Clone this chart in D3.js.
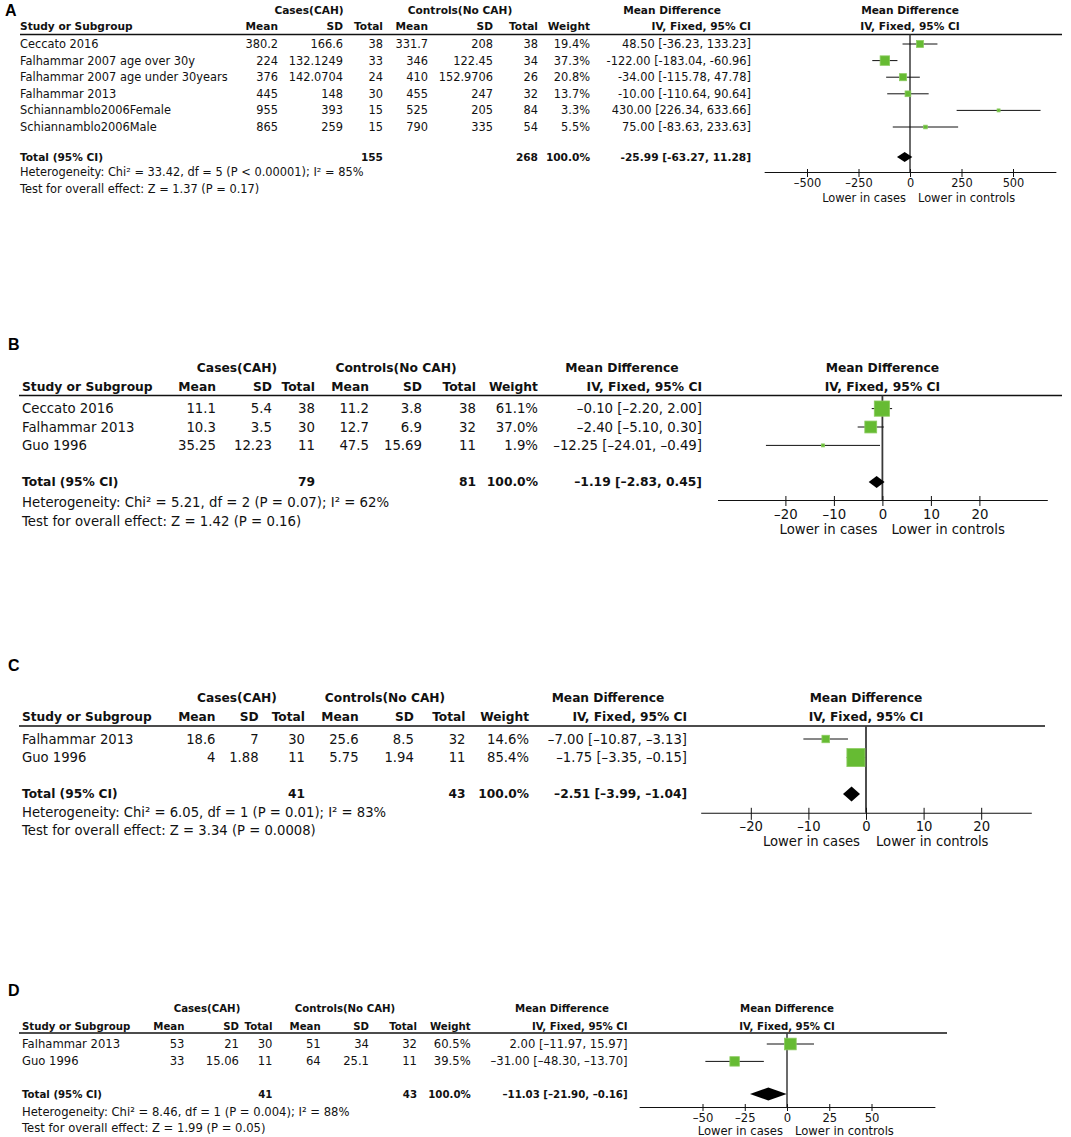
<!DOCTYPE html>
<html><head><meta charset="utf-8">
<script src="https://cdn.jsdelivr.net/npm/d3@7"></script>
<style>
body{margin:0;background:#fff;}
svg text{font-family:"DejaVu Sans",Verdana,sans-serif;fill:#111;}
</style></head><body>
<svg id="chart" width="1071" height="1137"></svg>
<script>
// ---------- Panel A ----------
const studiesA = ["Ceccato 2016","Falhammar 2007 age over 30y","Falhammar 2007 age under 30years","Falhammar 2013","Schiannamblo2006Female","Schiannamblo2006Male"];
const caseMeanA = [380.2,224,376,445,955,865];
const caseSDA = [166.6,132.1249,142.0704,148,393,259];
const caseNA = [38,33,24,30,15,15];
const ctrlMeanA = [331.7,346,410,455,525,790];
const ctrlSDA = [208,122.45,152.9706,247,205,335];
const ctrlNA = [38,34,26,32,84,54];
const weightA = [19.4,37.3,20.8,13.7,3.3,5.5];
const mdA = [48.50,-122.00,-34.00,-10.00,430.00,75.00];
const loA = [-36.23,-183.04,-115.78,-110.64,226.34,-83.63];
const hiA = [133.23,-60.96,47.78,90.64,633.66,233.63];
const totalNA = [155,268];
const totalEffA = [-25.99,-63.27,11.28];
const hetA = "Heterogeneity: Chi\u00b2 = 33.42, df = 5 (P < 0.00001); I\u00b2 = 85%";
const testA = "Test for overall effect: Z = 1.37 (P = 0.17)";
const ticksA = [-500,-250,0,250,500];

// ---------- Panel B ----------
const studiesB = ["Ceccato 2016","Falhammar 2013","Guo 1996"];
const caseMeanB = [11.1,10.3,35.25];
const caseSDB = [5.4,3.5,12.23];
const caseNB = [38,30,11];
const ctrlMeanB = [11.2,12.7,47.5];
const ctrlSDB = [3.8,6.9,15.69];
const ctrlNB = [38,32,11];
const weightB = [61.1,37.0,1.9];
const mdB = [-0.10,-2.40,-12.25];
const loB = [-2.20,-5.10,-24.01];
const hiB = [2.00,0.30,-0.49];
const totalNB = [79,81];
const totalEffB = [-1.19,-2.83,0.45];
const hetB = "Heterogeneity: Chi\u00b2 = 5.21, df = 2 (P = 0.07); I\u00b2 = 62%";
const testB = "Test for overall effect: Z = 1.42 (P = 0.16)";
const ticksB = [-20,-10,0,10,20];

// ---------- Panel C ----------
const studiesC = ["Falhammar 2013","Guo 1996"];
const caseMeanC = [18.6,4];
const caseSDC = [7,1.88];
const caseNC = [30,11];
const ctrlMeanC = [25.6,5.75];
const ctrlSDC = [8.5,1.94];
const ctrlNC = [32,11];
const weightC = [14.6,85.4];
const mdC = [-7.00,-1.75];
const loC = [-10.87,-3.35];
const hiC = [-3.13,-0.15];
const totalNC = [41,43];
const totalEffC = [-2.51,-3.99,-1.04];
const hetC = "Heterogeneity: Chi\u00b2 = 6.05, df = 1 (P = 0.01); I\u00b2 = 83%";
const testC = "Test for overall effect: Z = 3.34 (P = 0.0008)";
const ticksC = [-20,-10,0,10,20];

// ---------- Panel D ----------
const studiesD = ["Falhammar 2013","Guo 1996"];
const caseMeanD = [53,33];
const caseSDD = [21,15.06];
const caseND = [30,11];
const ctrlMeanD = [51,64];
const ctrlSDD = [34,25.1];
const ctrlND = [32,11];
const weightD = [60.5,39.5];
const mdD = [2.00,-31.00];
const loD = [-11.97,-48.30];
const hiD = [15.97,-13.70];
const totalND = [41,43];
const totalEffD = [-11.03,-21.90,-0.16];
const hetD = "Heterogeneity: Chi\u00b2 = 8.46, df = 1 (P = 0.004); I\u00b2 = 88%";
const testD = "Test for overall effect: Z = 1.99 (P = 0.05)";
const ticksD = [-50,-25,0,25,50];

const svg = d3.select("#chart");
const GREEN = "#66bb33", GREEN_EDGE = "#8acb5e";

function drawPanel(d, L) {
  const g = svg.append("g");
  const fs = L.fs, bfs = fs * L.bold;
  const T = (x, cy, txt, anchor, bold) => g.append("text")
    .attr("x", x).attr("y", cy).attr("dy", "0.35em")
    .attr("text-anchor", anchor || "start")
    .attr("font-size", bold ? bfs : fs)
    .attr("font-weight", bold ? "bold" : "normal")
    .text(txt);
  const num = v => {
    const s = v.toFixed(2);
    return v < 0 ? L.minus + s.slice(1) : s;
  };
  const ci = (m, lo, hi) => num(m) + " [" + num(lo) + ", " + num(hi) + "]";

  // panel letter
  g.append("text").attr("x", L.labelX).attr("y", L.labelCy).attr("dy", "0.36em")
    .style("font-family", "'Liberation Sans', Arial, sans-serif")
    .attr("font-weight", "bold").attr("font-size", 16).style("fill", "#000").text(L.label);

  // header row 1
  T(L.casesX, L.hdr1Cy, "Cases(CAH)", "middle", true);
  T(L.ctrlsX, L.hdr1Cy, "Controls(No CAH)", "middle", true);
  T(L.mdTableX, L.hdr1Cy, "Mean Difference", "middle", true);
  T(L.zeroX, L.hdr1Cy, "Mean Difference", "middle", true);
  // header row 2
  T(L.studyX, L.hdr2Cy, "Study or Subgroup", "start", true);
  const hdr = ["Mean","SD","Total","Mean","SD","Total","Weight","IV, Fixed, 95% CI"];
  hdr.forEach((h, i) => T(L.cols[i], L.hdr2Cy, h, "end", true));
  T(L.zeroX, L.hdr2Cy, "IV, Fixed, 95% CI", "middle", true);

  g.append("line").attr("x1", L.lineX1).attr("x2", L.lineX2)
    .attr("y1", L.lineY).attr("y2", L.lineY)
    .attr("stroke", "#111").attr("stroke-width", 1.3);

  const y = d3.scaleLinear().domain([0, 1]).range([L.rowStart, L.rowStart + L.rowStep]);
  const x = d3.scaleLinear().domain([-L.dom, L.dom]).range([L.zeroX - L.dom * L.ppu, L.zeroX + L.dom * L.ppu]);

  d.studies.forEach((s, i) => {
    const cy = y(i);
    T(L.studyX, cy, s);
    const vals = [d.caseMean[i], d.caseSD[i], d.caseN[i], d.ctrlMean[i], d.ctrlSD[i], d.ctrlN[i]];
    vals.forEach((v, j) => T(L.cols[j], cy, String(v), "end"));
    T(L.cols[6], cy, d.weight[i].toFixed(1) + "%", "end");
    T(L.cols[7], cy, ci(d.md[i], d.lo[i], d.hi[i]), "end");
  });

  // total rows
  T(L.studyX, L.totalCy, "Total (95% CI)", "start", true);
  T(L.cols[2], L.totalCy, String(d.totalN[0]), "end", true);
  T(L.cols[5], L.totalCy, String(d.totalN[1]), "end", true);
  T(L.cols[6], L.totalCy, "100.0%", "end", true);
  T(L.cols[7], L.totalCy, ci(d.totalEff[0], d.totalEff[1], d.totalEff[2]), "end", true);
  T(L.studyX, L.hetCy, d.het);
  T(L.studyX, L.testCy, d.test);

  // plot: zero line
  g.append("line").attr("x1", x(0)).attr("x2", x(0))
    .attr("y1", L.lineY).attr("y2", L.axisY)
    .attr("stroke", "#3a3a3a").attr("stroke-width", L.zeroW);

  // axis
  const ax = g.append("g").attr("transform", `translate(0,${L.axisY})`)
    .call(d3.axisBottom(x).tickValues(d.ticks).tickSize(L.tickDown).tickSizeOuter(0)
      .tickFormat(v => v < 0 ? "\u2013" + Math.abs(v) : String(v)));
  ax.select(".domain").attr("stroke", "#111").attr("stroke-width", 1.1);
  ax.selectAll(".tick line").attr("y1", -L.tickUp).attr("stroke", "#111");
  ax.selectAll(".tick text").attr("y", L.tickCy - L.axisY).attr("dy", "0.35em")
    .attr("font-size", fs).style("font-family", "'DejaVu Sans', Verdana, sans-serif").attr("fill", "#111");

  T(x(0) - L.lowerGap, L.lowerCy, "Lower in cases", "end");
  T(x(0) + L.lowerGap + 4, L.lowerCy, "Lower in controls", "start");

  // CI lines and squares
  d.studies.forEach((s, i) => {
    const cy = y(i);
    g.append("line").attr("x1", x(d.lo[i])).attr("x2", x(d.hi[i]))
      .attr("y1", cy).attr("y2", cy).attr("stroke", "#111").attr("stroke-width", 1);
    const side = Math.max(3, L.k * Math.sqrt(d.weight[i]));
    g.append("rect").attr("x", x(d.md[i]) - side / 2).attr("y", cy - side / 2)
      .attr("width", side).attr("height", side)
      .attr("fill", GREEN).attr("stroke", GREEN_EDGE).attr("stroke-width", 0.8);
  });

  // diamond
  const m = d.totalEff[0];
  let xl = x(d.totalEff[1]), xr = x(d.totalEff[2]);
  const xm = x(m);
  const half = L.dMinW / 2;
  if (xm - xl < half) xl = xm - half;
  if (xr - xm < half) xr = xm + half;
  const dc = L.totalCy;
  g.append("path")
    .attr("d", `M${xl},${dc} L${xm},${dc - L.dH / 2} L${xr},${dc} L${xm},${dc + L.dH / 2} Z`)
    .attr("fill", "#000");
}

const mk = (studies, caseMean, caseSD, caseN, ctrlMean, ctrlSD, ctrlN, weight, md, lo, hi, totalN, totalEff, het, test, ticks) =>
  ({studies, caseMean, caseSD, caseN, ctrlMean, ctrlSD, ctrlN, weight, md, lo, hi, totalN, totalEff, het, test, ticks});

drawPanel(mk(studiesA, caseMeanA, caseSDA, caseNA, ctrlMeanA, ctrlSDA, ctrlNA, weightA, mdA, loA, hiA, totalNA, totalEffA, hetA, testA, ticksA), {
  label: "A", labelX: 5, labelCy: 10, fs: 11.4, bold: 0.93,
  hdr1Cy: 10.3, casesX: 309, ctrlsX: 460, mdTableX: 672,
  hdr2Cy: 26, studyX: 20, cols: [278, 343, 383, 428, 493, 538, 590, 751],
  lineY: 34.5, lineX1: 20, lineX2: 1062,
  rowStart: 44, rowStep: 16.6,
  totalCy: 157, hetCy: 172, testCy: 189,
  zeroX: 910, ppu: 0.206, dom: 708,
  axisY: 172, tickCy: 183, lowerCy: 198, tickUp: 3, tickDown: 5, lowerGap: 4,
  k: 1.55, dH: 10, dMinW: 11, minus: "-", zeroW: 1.5
});

drawPanel(mk(studiesB, caseMeanB, caseSDB, caseNB, ctrlMeanB, ctrlSDB, ctrlNB, weightB, mdB, loB, hiB, totalNB, totalEffB, hetB, testB, ticksB), {
  label: "B", labelX: 8, labelCy: 344, fs: 13.3, bold: 0.925,
  hdr1Cy: 368, casesX: 237, ctrlsX: 396, mdTableX: 622,
  hdr2Cy: 387, studyX: 22, cols: [216, 272, 315, 369, 422, 476, 538, 702],
  lineY: 395.5, lineX1: 19, lineX2: 1062,
  rowStart: 408.6, rowStep: 18.4,
  totalCy: 482, hetCy: 502, testCy: 521,
  zeroX: 882.4, ppu: 4.85, dom: 34,
  axisY: 500, tickCy: 514, lowerCy: 529, tickUp: 4, tickDown: 6, lowerGap: 5,
  k: 1.95, dH: 12, dMinW: 12, minus: "\u2013", zeroW: 1.8
});

drawPanel(mk(studiesC, caseMeanC, caseSDC, caseNC, ctrlMeanC, ctrlSDC, ctrlNC, weightC, mdC, loC, hiC, totalNC, totalEffC, hetC, testC, ticksC), {
  label: "C", labelX: 8, labelCy: 665.5, fs: 13.2, bold: 0.925,
  hdr1Cy: 698, casesX: 237, ctrlsX: 385, mdTableX: 608,
  hdr2Cy: 717, studyX: 22, cols: [215.5, 258.6, 305, 358.6, 413.8, 465.5, 529, 687],
  lineY: 726, lineX1: 19, lineX2: 1045,
  rowStart: 739, rowStep: 18.6,
  totalCy: 794, hetCy: 812, testCy: 830,
  zeroX: 866, ppu: 5.76, dom: 28.7,
  axisY: 812.8, tickCy: 826, lowerCy: 841, tickUp: 5, tickDown: 7, lowerGap: 6,
  k: 1.95, dH: 15, dMinW: 15, minus: "\u2013", zeroW: 1.8
});

drawPanel(mk(studiesD, caseMeanD, caseSDD, caseND, ctrlMeanD, ctrlSDD, ctrlND, weightD, mdD, loD, hiD, totalND, totalEffD, hetD, testD, ticksD), {
  label: "D", labelX: 8, labelCy: 990.7, fs: 11.6, bold: 0.88,
  hdr1Cy: 1008, casesX: 207, ctrlsX: 345, mdTableX: 562,
  hdr2Cy: 1026, studyX: 22, cols: [184.5, 239, 272.4, 320.7, 369, 417, 470.7, 627.6],
  lineY: 1033, lineX1: 19, lineX2: 947,
  rowStart: 1044, rowStep: 17.4,
  totalCy: 1094, hetCy: 1112, testCy: 1128,
  zeroX: 787, ppu: 1.69, dom: 87.5,
  axisY: 1107, tickCy: 1117.5, lowerCy: 1131, tickUp: 3, tickDown: 4, lowerGap: 4,
  k: 1.5, dH: 13, dMinW: 13, minus: "\u2013", zeroW: 1.5
});
</script>
</body></html>
